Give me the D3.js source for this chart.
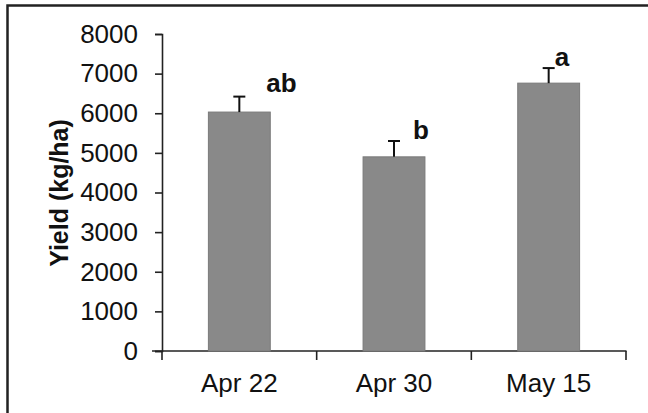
<!DOCTYPE html>
<meta charset="utf-8">
<script src="https://d3js.org/d3.v7.min.js"></script>
<style>
  body { margin: 0; background: #fff; }
  text { font-family: Arial, "Liberation Sans", sans-serif; fill: #111; }
</style>
<div id="chart"></div>

<script>

    // data
    var dates = ["Apr 22", "Apr 30", "May 15"];
    var yieldMean = [6030, 4900, 6760];
    var yieldErr = [390, 400, 380];
    var letters = ["ab", "b", "a"];
    var yTicks = [0, 1000, 2000, 3000, 4000, 5000, 6000, 7000, 8000];

    var width = 648, height = 413;

    var svg = d3.select("#chart").append("svg").attr("width", width).attr("height", height);

    // frame (cropped at right and bottom in the original)
    svg.append("rect")
        .attr("x", 7.5).attr("y", 5.5)
        .attr("width", 660).attr("height", 430)
        .style("fill", "none").style("stroke", "#222").style("stroke-width", 2.5);

    var x = d3.scaleBand().domain(dates).range([162, 626]).paddingInner(0.6).paddingOuter(0.3);
    var y = d3.scaleLinear().domain([0, 8000]).range([351, 34]);

    // y axis
    var yAxis = svg.append("g")
        .attr("transform", "translate(162,0)")
        .call(d3.axisLeft(y).tickValues(yTicks).tickSize(7).tickPadding(17).tickFormat(d3.format("d")));
    yAxis.selectAll("text").style("font-size", "26px").style("fill", "#111");

    // x axis, ticks between categories
    var xAxisG = svg.append("g").attr("transform", "translate(0,351)");
    xAxisG.append("line").attr("x1", 152).attr("x2", 626.5).attr("y1", 0).attr("y2", 0);
    var bounds = [0, 1, 2, 3].map(function(i) { return 162 + i * (626 - 162) / 3; });
    xAxisG.selectAll(".xt").data(bounds).enter().append("line")
        .attr("x1", function(d) { return d; }).attr("x2", function(d) { return d; })
        .attr("y1", 0).attr("y2", 9);
    xAxisG.selectAll("line").style("stroke", "#222").style("stroke-width", 1.6);
    xAxisG.selectAll(".xl").data(dates).enter().append("text")
        .attr("x", function(d) { return x(d) + x.bandwidth() / 2; })
        .attr("y", 41)
        .style("text-anchor", "middle")
        .style("font-size", "26px")
        .text(function(d) { return d; });

    yAxis.select(".domain").style("stroke", "#222").style("stroke-width", 1.6);
    yAxis.selectAll(".tick line").style("stroke", "#222").style("stroke-width", 1.6);

    // bars
    svg.selectAll(".bar").data(dates).enter().append("rect")
        .attr("x", function(d) { return x(d); })
        .attr("y", function(d, i) { return y(yieldMean[i]); })
        .attr("width", x.bandwidth())
        .attr("height", function(d, i) { return y(0) - y(yieldMean[i]); })
        .style("fill", "#898989")
        .style("stroke", "#7a7a7a")
        .style("stroke-width", 1);

    // error bars (upper only)
    var eb = svg.selectAll(".err").data(dates).enter().append("g");
    eb.append("line")
        .attr("x1", function(d) { return x(d) + x.bandwidth() / 2; })
        .attr("x2", function(d) { return x(d) + x.bandwidth() / 2; })
        .attr("y1", function(d, i) { return y(yieldMean[i]); })
        .attr("y2", function(d, i) { return y(yieldMean[i] + yieldErr[i]); });
    eb.append("line")
        .attr("x1", function(d) { return x(d) + x.bandwidth() / 2 - 6; })
        .attr("x2", function(d) { return x(d) + x.bandwidth() / 2 + 6; })
        .attr("y1", function(d, i) { return y(yieldMean[i] + yieldErr[i]); })
        .attr("y2", function(d, i) { return y(yieldMean[i] + yieldErr[i]); });
    eb.selectAll("line").style("stroke", "#111").style("stroke-width", 2);

    // significance letters, nudged as in the original
    var letterDx = [27, 19, 6];
    var letterDy = [-5, -2, -2];
    svg.selectAll(".let").data(dates).enter().append("text")
        .attr("x", function(d, i) { return x(d) + x.bandwidth() / 2 + letterDx[i]; })
        .attr("y", function(d, i) { return y(yieldMean[i] + yieldErr[i]) + letterDy[i]; })
        .style("font-size", "26px")
        .style("font-weight", "bold")
        .text(function(d, i) { return letters[i]; });

    // y label
    svg.append("text")
        .attr("transform", "translate(68,193) rotate(-90)")
        .style("text-anchor", "middle")
        .style("font-size", "25px")
        .style("font-weight", "bold")
        .text("Yield (kg/ha)");

</script>
